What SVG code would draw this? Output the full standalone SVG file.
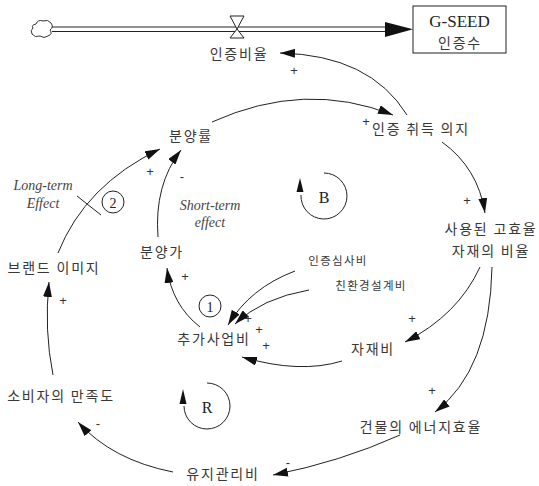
<svg xmlns="http://www.w3.org/2000/svg" width="539" height="486" viewBox="0 0 539 486">
<style>
.t{font-family:"Noto Sans CJK KR","Noto Sans",sans-serif;font-size:14px;letter-spacing:1.8px;fill:#383838;text-anchor:middle;dominant-baseline:central}
.ts{font-family:"Noto Sans CJK KR","Noto Sans",sans-serif;font-size:11.5px;letter-spacing:1.3px;fill:#383838;text-anchor:middle;dominant-baseline:central}
.s{font-family:"Liberation Sans",sans-serif;font-size:13px;fill:#333;text-anchor:middle;dominant-baseline:central}
.it{font-family:"Liberation Serif",serif;font-style:italic;font-size:14px;fill:#444;text-anchor:middle;dominant-baseline:central}
.sr{font-family:"Liberation Serif",serif;fill:#222;text-anchor:middle;dominant-baseline:central}
.c{fill:none;stroke:#222;stroke-width:1}
.a{fill:none;stroke:#222;stroke-width:1;marker-end:url(#ah)}
</style>
<defs>
<marker id="ah" markerWidth="15" markerHeight="9" refX="15" refY="4.5" orient="auto" markerUnits="userSpaceOnUse">
<path d="M0,0 L15,4.5 L0,9 z" fill="#111"/>
</marker>
</defs>
<g id="stock-flow">
<path d="M36,24 q2,-5 7,-3 q5,-2 8,2 q3,4 -1,7 q3,4 -2,6 q-4,3 -8,0 q-5,2 -8,-2 q-2,-4 1,-6 q-2,-3 3,-4 z" fill="none" stroke="#333" stroke-width="1"/>
<line x1="52" y1="27" x2="388" y2="27" stroke="#222" stroke-width="1"/>
<line x1="52" y1="31.5" x2="388" y2="31.5" stroke="#222" stroke-width="1"/>
<polygon points="385,22 413,29.3 385,37" fill="#111"/>
<path d="M230,16 L244,16 L237,29 L244,38 L230,38 L237,29 Z" fill="#fff" stroke="#222" stroke-width="1"/>
</g>
<g id="gseed">
<rect x="413" y="6" width="93" height="47" fill="#fff" stroke="#222" stroke-width="1"/>
<text class="sr" x="459.5" y="21" font-size="17">G-SEED</text>
<text class="t" x="460" y="42">인증수</text>
</g>
<g id="n-rate"><text class="t" x="239" y="53">인증비율</text></g>
<g id="n-will"><text class="t" x="421" y="128">인증 취득 의지</text></g>
<g id="n-sales"><text class="t" x="191" y="135">분양률</text></g>
<g id="n-ratio"><text class="t" x="491" y="228">사용된 고효율</text><text class="t" x="491" y="250">자재의 비율</text></g>
<g id="n-price"><text class="t" x="162" y="251">분양가</text></g>
<g id="n-brand"><text class="t" x="54" y="267">브랜드 이미지</text></g>
<g id="n-extra"><text class="t" x="214" y="338">추가사업비</text></g>
<g id="n-audit"><text class="ts" x="338" y="260">인증심사비</text></g>
<g id="n-design"><text class="ts" x="371" y="285">친환경설계비</text></g>
<g id="n-material"><text class="t" x="373" y="348">자재비</text></g>
<g id="n-satisfaction"><text class="t" x="61" y="395">소비자의 만족도</text></g>
<g id="n-energy"><text class="t" x="421" y="426">건물의 에너지효율</text></g>
<g id="n-maint"><text class="t" x="223" y="473">유지관리비</text></g>
<g id="annotations">
<text class="it" x="43" y="185">Long-term</text>
<text class="it" x="43" y="203">Effect</text>
<text class="it" x="210" y="205">Short-term</text>
<text class="it" x="210" y="222">effect</text>
<circle cx="113" cy="202" r="11" fill="none" stroke="#222"/>
<text class="sr" x="113" y="203" font-size="14">2</text>
<circle cx="210" cy="306" r="11" fill="none" stroke="#222"/>
<text class="sr" x="210" y="307" font-size="14">1</text>
<line x1="77" y1="196" x2="101" y2="215" stroke="#222"/>
</g>
<g id="loops">
<path class="c" d="M324,173 A23,23 0 1 1 301,195"/>
<polygon points="296.5,192 303.5,192 300,178" fill="#111"/>
<text class="sr" x="324" y="197" font-size="16">B</text>
<path class="c" d="M207,383 A23,23 0 1 1 184,406"/>
<polygon points="179.5,404 186.5,404 183,389" fill="#111"/>
<text class="sr" x="207" y="407" font-size="16">R</text>
</g>
<g id="connectors">
<path class="a" d="M212,122 Q305,80 393,115"/>
<path class="a" d="M407,115 Q370,55 280,53"/>
<path class="a" d="M442,142 Q478,168 485,213"/>
<path class="a" d="M480,267 Q458,315 405,342"/>
<path class="a" d="M492,267 Q490,370 435,412"/>
<path class="a" d="M342,361 Q300,374 242,357"/>
<path class="a" d="M295,271 Q250,288 228,325"/>
<path class="a" d="M309,290 Q262,298 235,324"/>
<path class="a" d="M200,327 Q172,305 167,268"/>
<path class="a" d="M158,237 Q154,185 181,150"/>
<path class="a" d="M58,253 Q85,185 160,149"/>
<path class="a" d="M53,375 Q44,330 49,282"/>
<path class="a" d="M400,435 Q340,462 273,475"/>
<path class="a" d="M173,472 Q112,460 78,422"/>
</g>
<g id="signs">
<text class="s" x="294" y="70">+</text>
<text class="s" x="366" y="121">+</text>
<text class="s" x="467" y="200">+</text>
<text class="s" x="412" y="318">+</text>
<text class="s" x="432" y="390">+</text>
<text class="s" x="288" y="462">-</text>
<text class="s" x="98" y="423">-</text>
<text class="s" x="63" y="300">+</text>
<text class="s" x="150" y="171">+</text>
<text class="s" x="182" y="176">-</text>
<text class="s" x="185" y="276">+</text>
<text class="s" x="248" y="318">+</text>
<text class="s" x="259" y="329">+</text>
<text class="s" x="266" y="345">+</text>
</g>
</svg>
